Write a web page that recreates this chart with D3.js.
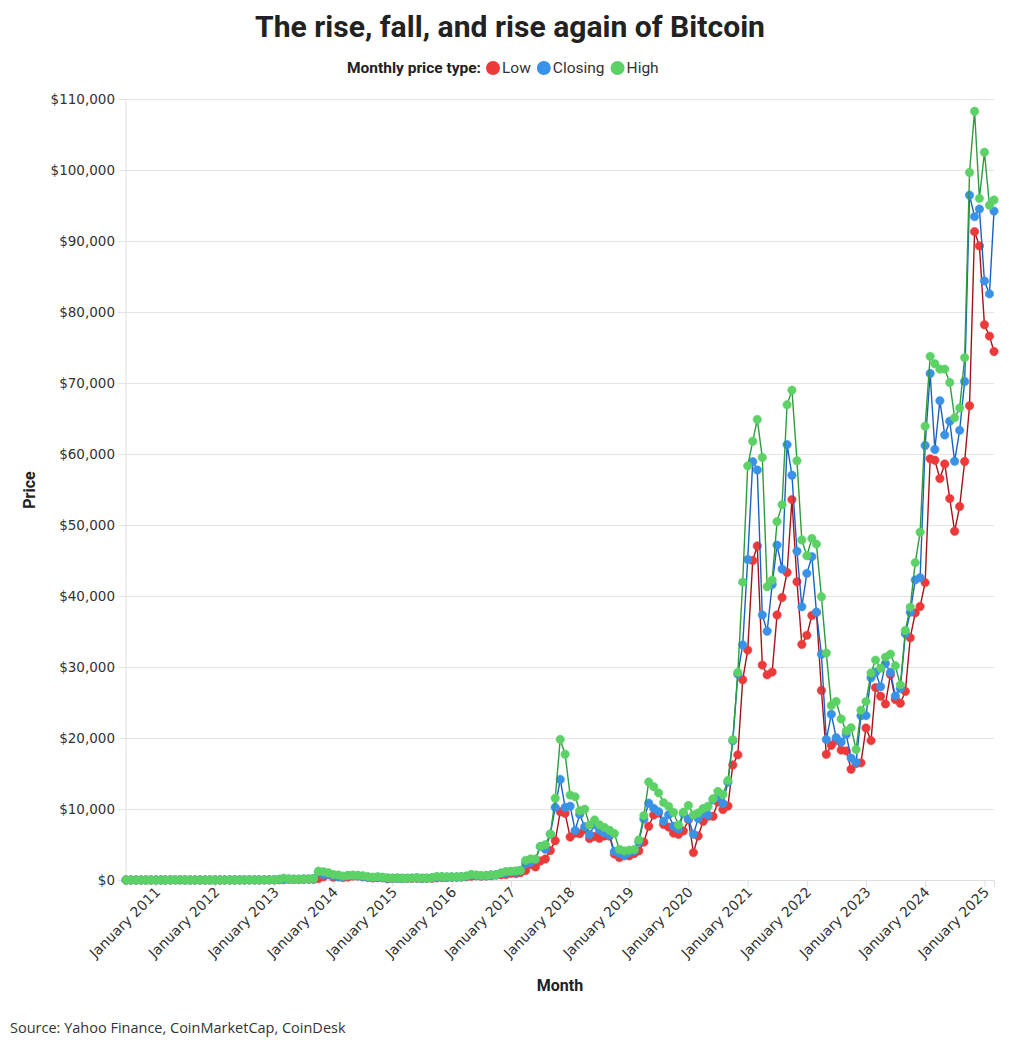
<!DOCTYPE html>
<html><head><meta charset="utf-8">
<script src="https://cdn.jsdelivr.net/npm/d3@7"></script>
<style>body{margin:0;background:#fff}</style>
</head><body>
<svg id="chart" width="1020" height="1049"></svg>
<script>
// Monthly categories: first plotted month and last plotted month (Jul 2010 ... Mar 2025)
const firstMonth = [2010, 6];   // year, monthIndex
const lastMonth = [2025, 2];

const seriesNames = ["Low", "Closing", "High"];
const seriesColors = ["#ec3a3a", "#3a92e6", "#5cd266"];
const lineColors = ["#a3141a", "#1a62c0", "#2f9b3f"];

const low = [
  0.05, 0.06, 0.06, 0.14, 0.2,
  0.3, 0.5, 0.7, 0.6, 3, 7, 12, 6.7, 4.6, 2, 2, 2.8,
  4.4, 4.2, 4.7, 4.8, 4.9, 5.2, 6.5, 7.5, 10, 10.5, 10.4, 12.6,
  13.3, 19.6, 33, 50, 91, 94, 66, 104, 119, 103, 197, 455,
  742, 400, 450, 340, 420, 560, 565, 450, 370, 290, 320, 310,
  170, 210, 240, 215, 228, 220, 255, 200, 225, 235, 300, 350,
  360, 370, 400, 415, 440, 530, 600, 540, 570, 605, 690, 740,
  755, 934, 903, 1061, 1348, 2170, 1843, 2668, 2952, 4165, 5519, 9600,
  9403, 6048, 6601, 6526, 7090, 5826, 6133, 5880, 6201, 6179, 3653, 3157,
  3401, 3400, 3734, 4097, 5333, 7564, 9163, 9421, 7830, 7446, 6618, 6435,
  6914, 8471, 3858, 6202, 8253, 8975, 8977, 10988, 9920, 10416, 16200, 17619,
  28200, 32380, 45000, 47050, 30270, 28890, 29280, 37330, 39790, 43320, 53570, 42000,
  33180, 34460, 37260, 37700, 26700, 17700, 18970, 19640, 18290, 18190, 15600, 16400,
  16500, 21400, 19630, 27100, 25880, 24800, 28930, 25410, 24900, 26560, 34110, 37630,
  38520, 41880, 59320, 59120, 56550, 58600, 53720, 49120, 52600, 58950, 66800, 91320,
  89300, 78200, 76600, 74440
];
const closing = [
  0.06, 0.06, 0.19, 0.21, 0.3,
  0.5, 0.9, 0.8, 3.5, 8.7, 16, 13.5, 8.2, 5.1, 3.2, 3, 4.7,
  5.5, 4.9, 4.9, 5, 5.2, 6.7, 9.4, 10.2, 12.4, 11.2, 12.6, 13.5,
  20.4, 33.4, 93, 139, 129, 97, 106, 135, 133, 204, 1129, 754,
  832, 550, 450, 450, 630, 640, 585, 480, 387, 338, 378, 320,
  217, 255, 244, 236, 230, 263, 285, 230, 236, 314, 377, 430,
  368, 437, 416, 448, 531, 674, 624, 575, 610, 700, 745, 964,
  970, 1190, 1071, 1348, 2286, 2481, 2875, 4703, 4338, 6468, 10233, 14157,
  10221, 10397, 6973, 9240, 7495, 6404, 7780, 7037, 6626, 6318, 4017, 3743,
  3457, 3854, 4105, 5351, 8574, 10817, 10086, 9631, 8293, 9199, 7569, 7194,
  9350, 8599, 6438, 8658, 9462, 9138, 11323, 11681, 10784, 13781, 19625, 29002,
  33110, 45140, 58920, 57750, 37330, 35040, 41630, 47170, 43790, 61320, 57010, 46310,
  38480, 43190, 45540, 37710, 31790, 19780, 23340, 20050, 19430, 20490, 17170, 16550,
  23140, 23150, 28480, 29270, 27220, 30480, 29230, 25930, 26970, 34670, 37710, 42270,
  42580, 61200, 71330, 60640, 67490, 62680, 64620, 58970, 63330, 70220, 96450, 93430,
  94500, 84370, 82550, 94210
];
const high = [
  0.07, 0.2, 0.2, 0.5, 0.3,
  0.5, 1.1, 0.9, 3.9, 8.9, 31, 16, 14, 8.6, 5, 3.5, 4.8,
  7.2, 6.3, 5.4, 5.2, 5.2, 6.7, 9.4, 15.4, 12.5, 12.5, 12.6, 13.6,
  20.5, 33.5, 93, 266, 139, 129, 108, 135, 137, 211, 1242, 1156,
  1022, 780, 700, 550, 630, 680, 650, 600, 480, 400, 460, 390,
  320, 265, 300, 250, 247, 265, 315, 285, 245, 330, 500, 465,
  460, 440, 440, 465, 550, 780, 700, 630, 620, 720, 760, 980,
  1191, 1211, 1290, 1347, 2763, 2976, 2953, 4736, 4976, 6470, 11517, 19800,
  17712, 11958, 11711, 9745, 9964, 7755, 8468, 7770, 7389, 7000, 6553, 4309,
  4109, 4210, 4296, 5642, 9074, 13797, 13130, 12273, 10898, 10370, 9505, 7744,
  9554, 10500, 9168, 9441, 10067, 10380, 11435, 12468, 12047, 14029, 19749, 29244,
  41950, 58330, 61790, 64860, 59520, 41300, 42230, 50480, 52850, 66930, 68990, 59040,
  47880, 45660, 48090, 47310, 39900, 31960, 24570, 25140, 22670, 20990, 21450, 18370,
  23920, 25130, 29160, 30970, 29820, 31390, 31810, 30180, 27480, 35150, 38430, 44700,
  48970, 63910, 73750, 72710, 71950, 71950, 70080, 65100, 66480, 73580, 99650, 108270,
  96000, 102500, 95040, 95770
];

const yTicks = [0, 10000, 20000, 30000, 40000, 50000, 60000, 70000, 80000, 90000, 100000, 110000];
const xTickYears = [2011, 2012, 2013, 2014, 2015, 2016, 2017, 2018, 2019, 2020, 2021, 2022, 2023, 2024, 2025];

const months = d3.timeMonth.range(new Date(firstMonth[0], firstMonth[1], 1),
                                  new Date(lastMonth[0], lastMonth[1] + 1, 1));
const seriesValues = [low, closing, high];

const svg = d3.select("#chart");
const L = 126, R = 994, T = 99, B = 880;

const x = d3.scaleTime().domain([months[0], months[months.length - 1]]).range([L, R]);
const y = d3.scaleLinear().domain([0, 110000]).range([B, T]);

const tickFont = "'DejaVu Sans', sans-serif";
const headFont = "Roboto, 'Noto Sans', sans-serif";

// Title
svg.append("text").attr("x", 510).attr("y", 37).attr("text-anchor", "middle")
  .attr("font-family", headFont).attr("font-weight", 700).attr("font-size", 30)
  .attr("fill", "#222").attr("textLength", 510).attr("lengthAdjust", "spacingAndGlyphs")
  .text("The rise, fall, and rise again of Bitcoin");

// Legend
const lg = svg.append("g").attr("transform", "translate(347,73)");
const lt = lg.append("text").attr("font-family", headFont).attr("font-weight", 700)
  .attr("font-size", 15.5).attr("fill", "#222").text("Monthly price type:");
let lx = lt.node().getComputedTextLength() + 12;
seriesNames.forEach((n, i) => {
  lg.append("circle").attr("cx", lx).attr("cy", -5).attr("r", 7).attr("fill", seriesColors[i]);
  const t = lg.append("text").attr("x", lx + 9).attr("font-family", headFont)
    .attr("font-size", 15.5).attr("fill", "#333").text(n);
  lx += 9 + t.node().getComputedTextLength() + 13;
});

// Y gridlines + labels
const yAxis = svg.append("g").attr("transform", `translate(${L - 8},0)`)
  .call(d3.axisLeft(y).tickValues(yTicks).tickSize(-(R - L + 8)).tickPadding(3)
    .tickFormat(d => "$" + d3.format(",")(d)));
yAxis.select(".domain").remove();
yAxis.selectAll(".tick line").attr("stroke", "#e4e4e4");
yAxis.selectAll(".tick text").attr("font-family", tickFont).attr("font-size", 13.5).attr("fill", "#333");

// vertical axis line
svg.append("line").attr("x1", L).attr("x2", L).attr("y1", T).attr("y2", B).attr("stroke", "#dedede");

// X axis
const xAxis = svg.append("g").attr("transform", `translate(0,${B})`)
  .call(d3.axisBottom(x).tickValues(xTickYears.map(yr => new Date(yr, 0, 1)))
    .tickSize(7).tickFormat(d3.timeFormat("%B %Y")));
xAxis.select(".domain").attr("stroke", "#dedede");
xAxis.selectAll(".tick line").attr("stroke", "#dedede");
xAxis.selectAll(".tick text").attr("font-family", tickFont).attr("font-size", 14).attr("fill", "#333")
  .attr("text-anchor", "end").attr("dy", null).attr("y", null)
  .attr("transform", "translate(5,13) rotate(-45)");

// Axis titles
svg.append("text").attr("x", 560).attr("y", 991).attr("text-anchor", "middle")
  .attr("font-family", headFont).attr("font-weight", 700).attr("font-size", 16).attr("fill", "#222")
  .text("Month");
svg.append("text").attr("transform", "translate(35,490) rotate(-90)").attr("text-anchor", "middle")
  .attr("font-family", headFont).attr("font-weight", 700).attr("font-size", 16).attr("fill", "#222")
  .text("Price");

// Source
svg.append("text").attr("x", 10).attr("y", 1033).attr("font-family", "'Open Sans', sans-serif")
  .attr("font-size", 14.5).attr("fill", "#333").text("Source: Yahoo Finance, CoinMarketCap, CoinDesk");

// Series
const line = d3.line().x((d, i) => x(months[i])).y(d => y(d));
seriesValues.forEach((vals, s) => {
  const g = svg.append("g");
  g.append("path").attr("d", line(vals)).attr("fill", "none")
    .attr("stroke", lineColors[s]).attr("stroke-width", 1.4);
  g.selectAll("circle").data(vals).join("circle")
    .attr("cx", (d, i) => x(months[i])).attr("cy", d => y(d)).attr("r", 4.2)
    .attr("fill", seriesColors[s]).attr("stroke", seriesColors[s]).attr("stroke-width", 0.6);
});
</script>
</body></html>
